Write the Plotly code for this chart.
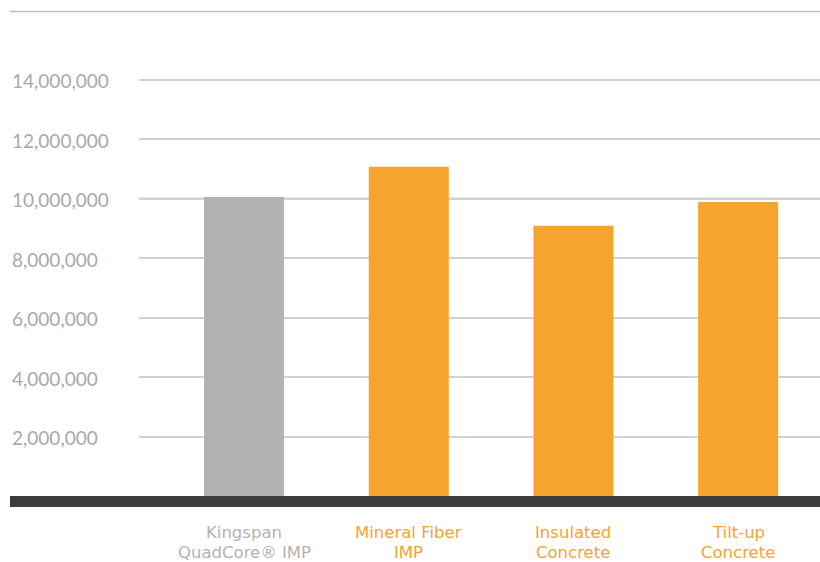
import plotly.graph_objects as go

categories_line1 = ["Kingspan", "Mineral Fiber", "Insulated", "Tilt-up"]
categories_line2 = ["QuadCore® IMP", "IMP", "Concrete", "Concrete"]
values = [10050000, 11070000, 9080000, 9880000]
bar_colors = ["#b1b2b3", "#f6a42d", "#f6a42d", "#f6a42d"]
label_colors = ["#b3b3b3", "#f6a42d", "#f6a42d", "#f6a42d"]
tick_vals = [2000000, 4000000, 6000000, 8000000, 10000000, 12000000, 14000000]
tick_text = ["2,000,000", "4,000,000", "6,000,000", "8,000,000", "10,000,000", "12,000,000", "14,000,000"]

W, H = 820, 562
px_y = lambda p: (H - p) / H
px_x = lambda p: p / W

xpos = list(range(len(values)))

fig = go.Figure()
fig.add_trace(go.Bar(x=xpos, y=values, marker=dict(color=bar_colors, line=dict(width=0)),
                     width=0.486, hoverinfo="skip"))

annotations = []
for v, t in zip(tick_vals, tick_text):
    annotations.append(dict(x=px_x(10), xref="paper", y=v, yref="y", text=t, showarrow=False,
                            xanchor="left", yanchor="middle", yshift=-1,
                            font=dict(family="Lato", size=19, color="#a9a9a9")))
for i, (l1, l2, col) in enumerate(zip(categories_line1, categories_line2, label_colors)):
    annotations.append(dict(x=i, xref="x", y=px_y(532.5), yref="paper", text=l1, showarrow=False,
                            xanchor="center", yanchor="middle", borderpad=0,
                            font=dict(family="DejaVu Sans", size=16.5, color=col)))
    annotations.append(dict(x=i, xref="x", y=px_y(552), yref="paper", text=l2, showarrow=False,
                            xanchor="center", yanchor="middle", borderpad=0,
                            font=dict(family="DejaVu Sans", size=16.5, color=col)))

shapes = [
    dict(type="line", xref="paper", yref="paper", x0=px_x(10), x1=1, y0=px_y(11.5), y1=px_y(11.5),
         line=dict(color="#bdbdbd", width=1.5)),
    dict(type="line", xref="paper", yref="y", x0=px_x(139), x1=1, y0=10000000, y1=10000000,
         line=dict(color="#a6a6a6", width=1.5), layer="below"),
    dict(type="rect", xref="paper", yref="paper", x0=px_x(10), x1=1, y0=px_y(507), y1=px_y(496),
         fillcolor="#3c3c3b", line=dict(width=0)),
]

fig.update_layout(
    width=W, height=H,
    margin=dict(l=0, r=0, t=0, b=0),
    paper_bgcolor="white", plot_bgcolor="white",
    showlegend=False,
    xaxis=dict(domain=[px_x(139), 1], range=[-0.638, 3.497], showticklabels=False,
               showgrid=False, zeroline=False, showline=False, fixedrange=True),
    yaxis=dict(domain=[px_y(496), px_y(20)], range=[0, 16000000], tickvals=tick_vals,
               showticklabels=False, showgrid=True, gridcolor="#d2d2d2", gridwidth=1.5,
               zeroline=False, showline=False, fixedrange=True),
    annotations=annotations,
    shapes=shapes,
)

fig.write_html("out.html", config={"displayModeBar": False},
               post_script="document.body.style.margin='0';document.body.style.overflow='hidden';")
